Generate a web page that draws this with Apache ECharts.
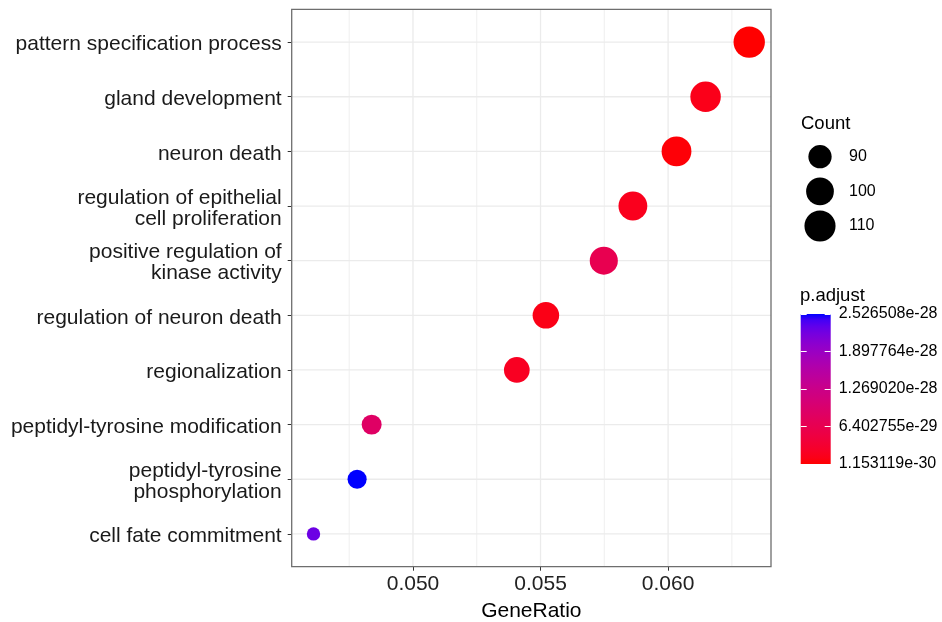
<!DOCTYPE html>
<html>
<head>
<meta charset="utf-8">
<script src="https://cdn.jsdelivr.net/npm/echarts@6/dist/echarts.min.js"></script>
<style>
  html, body { margin: 0; padding: 0; background: #ffffff; }
  #chart { width: 942px; height: 622px; }
</style>
</head>
<body>
<div id="chart"></div>
<script>
// GO enrichment dot plot: terms listed top to bottom
const terms = [
  'pattern specification process',
  'gland development',
  'neuron death',
  'regulation of epithelial\ncell proliferation',
  'positive regulation of\nkinase activity',
  'regulation of neuron death',
  'regionalization',
  'peptidyl-tyrosine modification',
  'peptidyl-tyrosine\nphosphorylation',
  'cell fate commitment'
];
const geneRatio = [0.06318, 0.06147, 0.06033, 0.05862, 0.05748, 0.05521, 0.05407, 0.04838, 0.04781, 0.04610];
const counts    = [111, 108, 106, 103, 101, 97, 95, 85, 84, 81];
const pAdjust   = [1.153119e-30, 1.3e-29, 4.5e-30, 1.6e-29, 6.4e-29, 1.1e-29, 2.0e-29, 8.6e-29, 2.526508e-28, 2.25e-28];

// axis and legend breaks
const xTicks      = [0.050, 0.055, 0.060];
const xMinorTicks = [0.0475, 0.0525, 0.0575, 0.0625];
const pBreaks     = [1.153119e-30, 6.402755e-29, 1.269020e-28, 1.897764e-28, 2.526508e-28];
const countBreaks = [90, 100, 110];

const FONT = '"Liberation Sans", Arial, Helvetica, sans-serif';
const P_UNIT = 1e28;           // p.adjust values are handled in units of 1e-28
const n = terms.length;
const yIdx = terms.map((_, i) => i);

// ---- colour scale: red (low) -> blue (high), interpolated in CIE Lab ----
const WHITE = [0.95047, 1, 1.08883];
function hexToRgb(h) { h = h.replace('#', ''); return [0, 2, 4].map(k => parseInt(h.substr(k, 2), 16)); }
function toLinear(c) { c /= 255; return c <= 0.04045 ? c / 12.92 : Math.pow((c + 0.055) / 1.055, 2.4); }
function toSrgb(c) {
  c = c <= 0.0031308 ? 12.92 * c : 1.055 * Math.pow(c, 1 / 2.4) - 0.055;
  return Math.round(Math.min(1, Math.max(0, c)) * 255);
}
function rgbToLab(rgb) {
  const [R, G, B] = rgb.map(toLinear);
  const X = (0.4124 * R + 0.3576 * G + 0.1805 * B) / WHITE[0];
  const Y = (0.2126 * R + 0.7152 * G + 0.0722 * B);
  const Z = (0.0193 * R + 0.1192 * G + 0.9505 * B) / WHITE[2];
  const f = t => t > 0.008856 ? Math.cbrt(t) : 7.787 * t + 16 / 116;
  const fx = f(X), fy = f(Y), fz = f(Z);
  return [116 * fy - 16, 500 * (fx - fy), 200 * (fy - fz)];
}
function labToHex(lab) {
  const [L, a, b] = lab;
  const fy = (L + 16) / 116, fx = fy + a / 500, fz = fy - b / 200;
  const inv = t => (t * t * t > 0.008856 ? t * t * t : (t - 16 / 116) / 7.787);
  const X = inv(fx) * WHITE[0], Y = inv(fy), Z = inv(fz) * WHITE[2];
  const R = 3.2406 * X - 1.5372 * Y - 0.4986 * Z;
  const G = -0.9689 * X + 1.8758 * Y + 0.0415 * Z;
  const B = 0.0557 * X - 0.2040 * Y + 1.0570 * Z;
  return '#' + [R, G, B].map(v => toSrgb(v).toString(16).padStart(2, '0')).join('');
}
const labLow = rgbToLab(hexToRgb('#FF0000'));
const labHigh = rgbToLab(hexToRgb('#0000FF'));
const STEPS = 24;
const rampColors = [];
for (let k = 0; k <= STEPS; k++) {
  const t = k / STEPS;
  rampColors.push(labToHex(labLow.map((v, j) => v + (labHigh[j] - v) * t)));
}
const rampStops = rampColors.map((c, k) => ({ offset: k / STEPS, color: c }));

// ---- point size: area scale between the smallest and largest count ----
const cMin = Math.min(...counts), cMax = Math.max(...counts);
const D_MIN = 13.4, D_MAX = 31.4;
function dotSize(c) {
  const t = Math.max(0, Math.min(1, (c - cMin) / (cMax - cMin)));
  return D_MIN + (D_MAX - D_MIN) * Math.sqrt(t);
}

// continuous x scale with 5% expansion on each side
const gMin = Math.min(...geneRatio), gMax = Math.max(...geneRatio);
const xPad = (gMax - gMin) * 0.05;

const pLow = pBreaks[0] * P_UNIT, pHigh = pBreaks[pBreaks.length - 1] * P_UNIT;
const pBreaksScaled = pBreaks.map(v => v * P_UNIT);

const GRID_COLOR = '#EBEBEB';
const MAJOR_W = 1.3, MINOR_W = 0.8;

// vertical grid lines: [value, line width]
const vGrid = [...xTicks.map(v => [v, MAJOR_W]), ...xMinorTicks.map(v => [v, MINOR_W])];
// horizontal grid lines / term labels, one per term
const hGrid = yIdx.map(i => [gMin, i]);

function renderVGrid(params, api) {
  const cs = params.coordSys;
  const x = api.coord([api.value(0), 0])[0];
  return { type: 'line', silent: true,
           shape: { x1: x, y1: cs.y, x2: x, y2: cs.y + cs.height },
           style: { stroke: GRID_COLOR, lineWidth: api.value(1) } };
}
function renderHGrid(params, api) {
  const cs = params.coordSys;
  const y = api.coord([api.value(0), api.value(1)])[1];
  return { type: 'line', silent: true,
           shape: { x1: cs.x, y1: y, x2: cs.x + cs.width, y2: y },
           style: { stroke: GRID_COLOR, lineWidth: MAJOR_W } };
}
// term names to the left of the panel, centred a little below each tick
function renderTermLabel(params, api) {
  const cs = params.coordSys;
  const idx = api.value(1);
  const y = api.coord([api.value(0), idx])[1];
  return { type: 'text', silent: true, x: cs.x - 10, y: y + 2.5,
           style: { text: terms[n - 1 - Math.round(idx)], fill: '#1a1a1a',
                    font: '21px ' + FONT, lineHeight: 21,
                    align: 'right', verticalAlign: 'middle' } };
}

const chart = echarts.init(document.getElementById('chart'), null, { renderer: 'canvas' });
chart.setOption({
  animation: false,
  backgroundColor: '#ffffff',
  textStyle: { fontFamily: FONT },
  title: [
    { text: 'Count', left: 801, top: 114, padding: 0,
      textStyle: { fontFamily: FONT, fontSize: 18.5, fontWeight: 'normal', color: '#000' } },
    { text: 'p.adjust', left: 800, top: 286, padding: 0,
      textStyle: { fontFamily: FONT, fontSize: 18.5, fontWeight: 'normal', color: '#000' } }
  ],
  grid: [
    { left: 291.7, top: 9.3, width: 479.3, height: 557.4, show: true, z: 4,
      outerBoundsMode: 'none', containLabel: false,
      borderColor: '#6e6e6e', borderWidth: 1.3, backgroundColor: 'transparent' },
    { left: 800.7, top: 314, width: 30, height: 150, outerBoundsMode: 'none', containLabel: false },
    { left: 805, top: 139.4, width: 30, height: 104, outerBoundsMode: 'none', containLabel: false }
  ],
  xAxis: [
    {
      gridIndex: 0, type: 'value', min: gMin - xPad, max: gMax + xPad, position: 'bottom',
      axisLine: { show: false, onZero: false }, splitLine: { show: false },
      axisTick: { show: true, length: 4, lineStyle: { color: '#333333' }, customValues: xTicks },
      axisLabel: { customValues: xTicks, formatter: v => v.toFixed(3),
                   fontFamily: FONT, fontSize: 21, color: '#222', margin: 7 },
      name: 'GeneRatio', nameLocation: 'middle', nameGap: 34,
      nameTextStyle: { fontFamily: FONT, fontSize: 21, color: '#000' }
    },
    { gridIndex: 1, type: 'value', min: 0, max: 1, show: false },
    { gridIndex: 2, type: 'value', min: 0, max: 1, show: false }
  ],
  yAxis: [
    {
      gridIndex: 0, type: 'value', min: -0.6, max: n - 1 + 0.6, position: 'left',
      axisLine: { show: false, onZero: false }, splitLine: { show: false },
      axisTick: { show: true, length: 4, lineStyle: { color: '#333333' }, customValues: yIdx },
      axisLabel: { show: false }
    },
    {
      gridIndex: 1, type: 'value', min: pLow, max: pHigh, position: 'right', z: 10,
      axisLine: { show: false, onZero: false }, splitLine: { show: false },
      axisTick: { show: true, inside: true, length: 6, lineStyle: { color: '#ffffff', width: 1 },
                  customValues: pBreaksScaled },
      axisLabel: { customValues: pBreaksScaled, formatter: v => (v / P_UNIT).toExponential(6),
                   fontFamily: FONT, fontSize: 16, color: '#000', margin: 8, align: 'left' }
    },
    {
      gridIndex: 1, type: 'value', min: pLow, max: pHigh, position: 'left', z: 10,
      axisLine: { show: false, onZero: false }, splitLine: { show: false },
      axisTick: { show: true, inside: true, length: 6, lineStyle: { color: '#ffffff', width: 1 },
                  customValues: pBreaksScaled },
      axisLabel: { show: false }
    },
    {
      gridIndex: 2, type: 'category', data: countBreaks.map(String), inverse: true, position: 'right',
      axisLine: { show: false, onZero: false }, axisTick: { show: false }, splitLine: { show: false },
      axisLabel: { fontFamily: FONT, fontSize: 16, color: '#000', margin: 14, align: 'left' }
    }
  ],
  visualMap: {
    type: 'continuous', show: false, seriesIndex: 2, dimension: 2,
    min: pLow, max: pHigh, inRange: { color: rampColors }
  },
  series: [
    {
      type: 'custom', xAxisIndex: 0, yAxisIndex: 0, silent: true, z: 1,
      data: vGrid, renderItem: renderVGrid
    },
    {
      type: 'custom', xAxisIndex: 0, yAxisIndex: 0, silent: true, z: 1,
      data: hGrid, renderItem: renderHGrid
    },
    {
      name: 'terms', type: 'scatter', xAxisIndex: 0, yAxisIndex: 0, z: 3,
      data: terms.map((t, i) => [geneRatio[i], n - 1 - i, pAdjust[i] * P_UNIT, counts[i]]),
      symbolSize: val => dotSize(val[3]),
      itemStyle: { opacity: 1 }
    },
    {
      // p.adjust colour bar
      type: 'custom', xAxisIndex: 1, yAxisIndex: 1, silent: true, z: 2,
      data: [[0, pLow, pHigh]],
      renderItem: (params, api) => {
        const top = api.coord([0, api.value(2)]);
        const bottom = api.coord([1, api.value(1)]);
        return {
          type: 'rect',
          shape: { x: top[0], y: top[1], width: bottom[0] - top[0], height: bottom[1] - top[1] },
          style: { fill: new echarts.graphic.LinearGradient(0, 1, 0, 0, rampStops) }
        };
      }
    },
    {
      // Count size key
      type: 'scatter', xAxisIndex: 2, yAxisIndex: 3, silent: true, z: 3,
      data: countBreaks.map(c => [0.5, String(c), c]),
      symbolSize: val => dotSize(val[2]),
      itemStyle: { color: '#000000', opacity: 1 }
    },
    {
      // term labels on the y axis
      type: 'custom', xAxisIndex: 0, yAxisIndex: 0, silent: true, z: 5, clip: false,
      data: hGrid, renderItem: renderTermLabel
    }
  ]
});
</script>
</body>
</html>
